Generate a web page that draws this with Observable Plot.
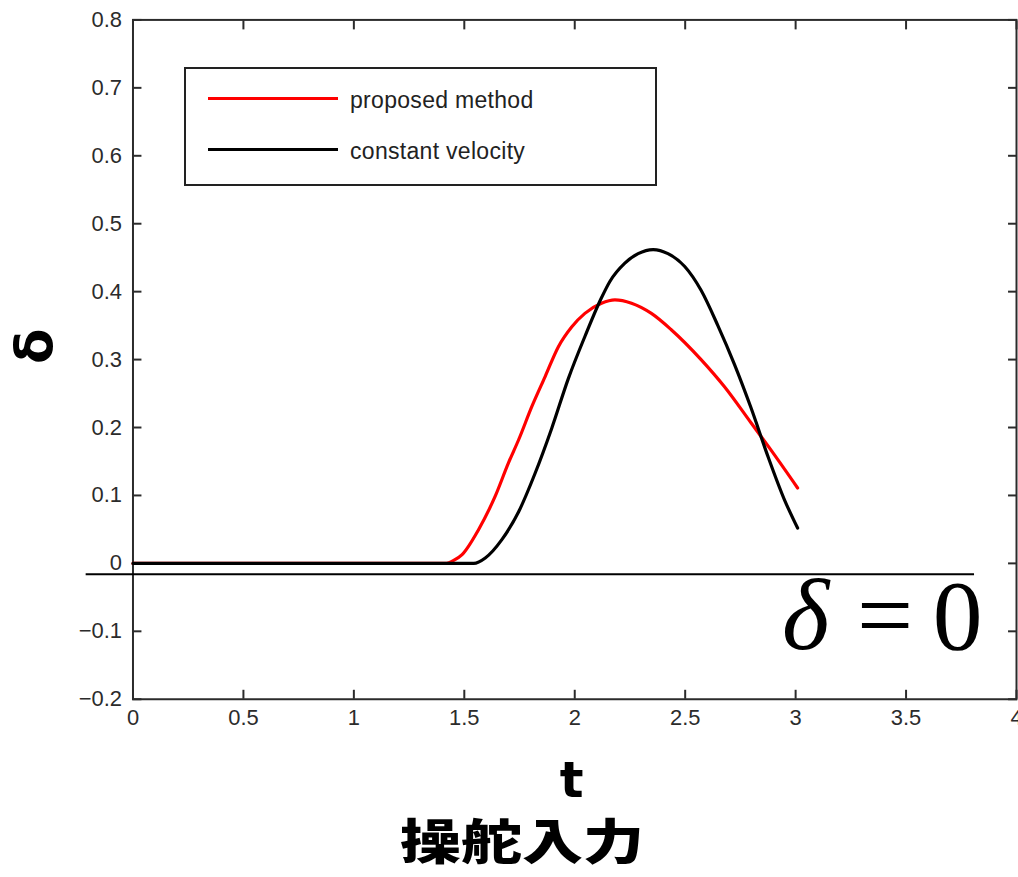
<!DOCTYPE html>
<html>
<head>
<meta charset="utf-8">
<script src="https://cdn.jsdelivr.net/npm/d3@7"></script>
<script src="https://cdn.jsdelivr.net/npm/@observablehq/plot@0.6"></script>
<style>
html, body { margin: 0; padding: 0; background: #fff; overflow: hidden; }
#wrap { position: relative; width: 1018px; height: 877px; overflow: hidden; background: #fff; }
#chart { position: absolute; left: 0; top: 0; }
#legend { position: absolute; left: 184px; top: 67px; width: 469px; height: 115px; border: 2px solid #222; background: #fff;
  font-family: "Liberation Sans", Arial, sans-serif; font-size: 23px; letter-spacing: 0.3px; color: #222; }
#legend .sw { position: absolute; left: 22px; width: 130px; height: 3px; }
#legend .lb { position: absolute; left: 164px; height: 24px; line-height: 24px; white-space: nowrap; }
#title { position: absolute; left: 400px; top: 818px; font-family: "Noto Sans CJK JP", sans-serif; font-weight: 900;
  font-size: 61px; line-height: 54px; height: 54px; color: #000; white-space: nowrap; transform: scaleY(0.78); transform-origin: 0 0; }
</style>
</head>
<body>
<div id="wrap">
  <div id="chart"></div>
  <div id="legend"></div>
  <div id="title"></div>
</div>
<script>
// ---- data ----
const xTicks = [0, 0.5, 1, 1.5, 2, 2.5, 3, 3.5, 4];
const yTicks = [-0.2, -0.1, 0, 0.1, 0.2, 0.3, 0.4, 0.5, 0.6, 0.7, 0.8];
const seriesNames = ["proposed method", "constant velocity"];
const seriesColors = ["#ff0000", "#000000"];

const proposedT = [0, 1.0, 1.3, 1.42, 1.45, 1.49, 1.565, 1.64, 1.70, 1.746, 1.806, 1.866, 1.926, 1.986, 2.046, 2.121, 2.182, 2.257, 2.347, 2.437, 2.572, 2.678, 2.798, 2.888, 3.009];
const proposedD = [0, 0, 0, 0, 0.004, 0.013, 0.050, 0.099, 0.148, 0.182, 0.231, 0.275, 0.319, 0.348, 0.368, 0.383, 0.388, 0.383, 0.368, 0.344, 0.300, 0.260, 0.207, 0.167, 0.111];

const constantT = [0, 1.0, 1.4, 1.543, 1.595, 1.670, 1.746, 1.821, 1.896, 1.971, 2.046, 2.121, 2.159, 2.227, 2.287, 2.355, 2.422, 2.498, 2.572, 2.648, 2.723, 2.798, 2.873, 2.949, 3.009];
const constantD = [0, 0, 0, 0, 0.008, 0.035, 0.076, 0.133, 0.199, 0.272, 0.334, 0.391, 0.415, 0.442, 0.456, 0.462, 0.456, 0.437, 0.402, 0.350, 0.293, 0.229, 0.159, 0.094, 0.052];

// annotation: the "δ = 0" reference line and its label
const refLineY = [-0.016];
const refLineX1 = -0.212;
const refLineX2 = 3.81;
const refLabelItalic = [{text: "δ", x: 3.045, y: -0.126}];
const refLabelUpright = [{text: "=", x: 3.405, y: -0.126}, {text: "0", x: 3.733, y: -0.126}];

const xLabel = "t";
const yLabel = "δ";
const titleText = "操舵入力";

// ---- build ----
const proposed = proposedT.map((t, i) => ({t, d: proposedD[i]}));
const constant = constantT.map((t, i) => ({t, d: constantD[i]}));
const axisColor = "#2b2b2b";
const serif = "'Liberation Serif', 'DejaVu Serif', serif";

const chart = Plot.plot({
  width: 1022,
  height: 805,
  marginLeft: 133,
  marginRight: 2,
  marginTop: 19.5,
  marginBottom: 103.5,
  x: {domain: [0, 4]},
  y: {domain: [-0.2, 0.8]},
  style: {background: "#fff", fontFamily: "'Liberation Sans', Arial, sans-serif", fontSize: "22px", color: "#222", overflow: "visible"},
  marks: [
    Plot.frame({stroke: axisColor, strokeWidth: 2}),
    Plot.axisX(xTicks, {anchor: "bottom", tickSize: -9, tickPadding: 19, strokeWidth: 2, color: axisColor, label: null, tickFormat: d => String(d)}),
    Plot.axisX(xTicks, {anchor: "top", tickSize: -9, strokeWidth: 2, color: axisColor, label: null, tickFormat: () => ""}),
    Plot.axisY(yTicks, {anchor: "left", tickSize: -9, tickPadding: 20, strokeWidth: 2, color: axisColor, label: null, tickFormat: d => String(d).replace("-", "\u2212")}),
    Plot.axisY(yTicks, {anchor: "right", tickSize: -9, strokeWidth: 2, color: axisColor, label: null, tickFormat: () => ""}),
    Plot.line(proposed, {x: "t", y: "d", stroke: seriesColors[0], strokeWidth: 3.2, curve: "monotone-x"}),
    Plot.line(constant, {x: "t", y: "d", stroke: seriesColors[1], strokeWidth: 3.2, curve: "monotone-x"}),
    Plot.ruleY(refLineY, {x1: refLineX1, x2: refLineX2, stroke: "#000", strokeWidth: 2}),
    Plot.text(refLabelItalic, {x: "x", y: "y", text: "text", fontFamily: serif, fontSize: 102, fontStyle: "italic", lineAnchor: "bottom", textAnchor: "middle", fill: "#000"}),
    Plot.text(refLabelUpright, {x: "x", y: "y", text: "text", fontFamily: serif, fontSize: 100, lineAnchor: "bottom", textAnchor: "middle", fill: "#000"}),
    Plot.text([xLabel], {frameAnchor: "bottom", dy: 98.5, dx: -3, lineAnchor: "bottom", fontFamily: "'DejaVu Sans', sans-serif", fontWeight: "bold", fontSize: 50, fill: "#000"}),
    Plot.text([yLabel], {frameAnchor: "left", dx: -98, dy: 4.5, rotate: -90, lineAnchor: "middle", fontFamily: "'DejaVu Sans', sans-serif", fontWeight: "bold", fontSize: 52, fill: "#000"})
  ]
});
document.getElementById("chart").appendChild(chart);

// legend
const legend = document.getElementById("legend");
seriesNames.forEach((name, i) => {
  const cy = [29, 80][i];
  const sw = document.createElement("div");
  sw.className = "sw";
  sw.style.top = (cy - 1.5) + "px";
  sw.style.background = seriesColors[i];
  legend.appendChild(sw);
  const lb = document.createElement("div");
  lb.className = "lb";
  lb.style.top = (cy - 12 + 2) + "px";
  lb.textContent = name;
  legend.appendChild(lb);
});
document.getElementById("title").textContent = titleText;
</script>
</body>
</html>
